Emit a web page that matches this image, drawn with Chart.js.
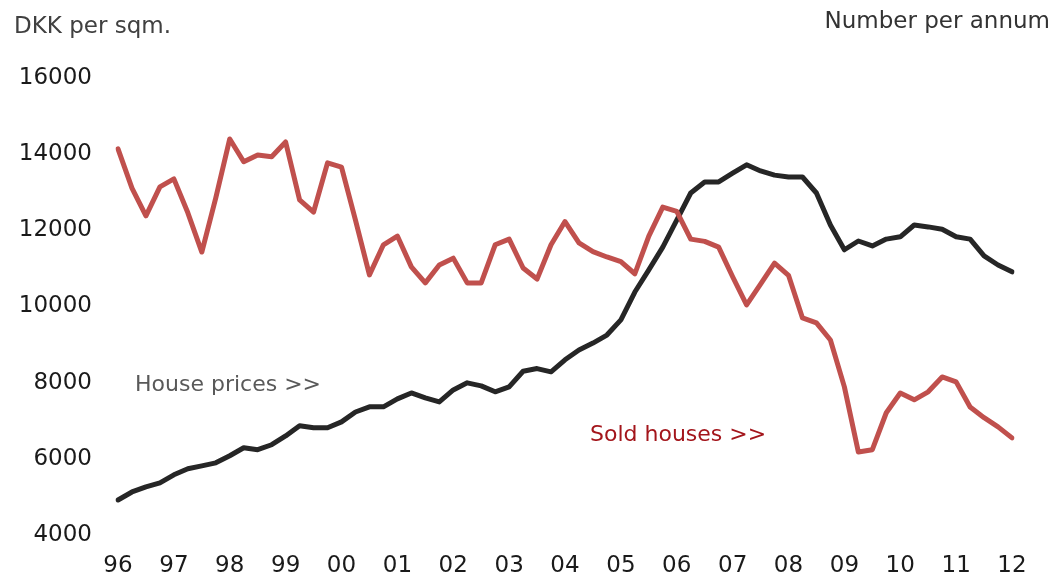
<!DOCTYPE html>
<html>
<head>
<meta charset="utf-8">
<script src="https://cdn.jsdelivr.net/npm/chart.js@4/dist/chart.umd.min.js"></script>
<style>
html,body{margin:0;padding:0;background:#fff;overflow:hidden;}
#wrap{width:1052px;height:572px;position:relative;}
</style>
</head>
<body>
<div id="wrap"><canvas id="c"></canvas></div>
<script>
// Year tick labels (one per year, first quarter)
const yearLabels = ['96','97','98','99','00','01','02','03','04','05','06','07','08','09','10','11','12'];
// Quarterly categories 1996Q1 .. 2012Q1
const categories = [];
yearLabels.forEach((y, i) => {
  const nq = (i === yearLabels.length - 1) ? 1 : 4;
  for (let q = 1; q <= nq; q++) categories.push(y + 'Q' + q);
});

// House prices, DKK per sqm (left axis)
const housePrices = [
  4920, 5130, 5265, 5370, 5580, 5740, 5815, 5895, 6080, 6290,
  6240, 6370, 6600, 6870, 6815, 6815, 6970, 7230, 7365, 7365,
  7575, 7730, 7600, 7495, 7810, 7995, 7915, 7760, 7890, 8300,
  8370, 8285, 8600, 8860, 9040, 9250, 9650, 10380, 10960, 11560,
  12270, 12980, 13270, 13270, 13500, 13720, 13560, 13450, 13400, 13400,
  12980, 12140, 11490, 11720, 11590, 11770, 11830, 12140, 12090, 12030,
  11830, 11770, 11330, 11090, 10910
];
// Sold houses, number per annum (unlabelled right axis, drawn on same visual scale)
const soldHouses = [
  14140, 13110, 12380, 13140, 13350, 12460, 11430, 12850, 14400, 13800,
  13980, 13930, 14320, 12800, 12480, 13770, 13660, 12270, 10830, 11620,
  11850, 11040, 10620, 11090, 11270, 10620, 10620, 11620, 11770, 11010,
  10720, 11620, 12230, 11670, 11440, 11300, 11180, 10860, 11850, 12610,
  12500, 11770, 11710, 11560, 10780, 10040, 10590, 11140, 10820, 9700,
  9570, 9120, 7890, 6180, 6240, 7210, 7730, 7550, 7760, 8150,
  8020, 7360, 7080, 6840, 6550
];
const yTicks = [4000, 6000, 8000, 10000, 12000, 14000, 16000];

const FONT = '"DejaVu Sans", sans-serif';

const textPlugin = {
  id: 'texts',
  afterDraw(chart) {
    const ctx = chart.ctx;
    ctx.save();
    ctx.textBaseline = 'middle';
    ctx.font = '23px ' + FONT;
    ctx.fillStyle = '#404040';
    ctx.textAlign = 'left';
    ctx.fillText('DKK per sqm.', 14, 27);
    ctx.fillStyle = '#333333';
    ctx.textAlign = 'right';
    ctx.fillText('Number per annum', 1050, 22);
    ctx.font = '22px ' + FONT;
    ctx.textAlign = 'left';
    ctx.fillStyle = '#595959';
    ctx.fillText('House prices >>', 135, 385);
    ctx.fillStyle = '#a3151b';
    ctx.fillText('Sold houses >>', 590, 435);
    ctx.restore();
  }
};

new Chart(document.getElementById('c'), {
  type: 'line',
  data: {
    labels: categories,
    datasets: [
      {
        label: 'Sold houses',
        data: soldHouses,
        yAxisID: 'y2',
        borderColor: '#c0504d',
        borderWidth: 5,
        pointRadius: 0,
        tension: 0,
        borderJoinStyle: 'round',
        borderCapStyle: 'round'
      },
      {
        label: 'House prices',
        data: housePrices,
        yAxisID: 'y',
        borderColor: '#262626',
        borderWidth: 5,
        pointRadius: 0,
        tension: 0,
        borderJoinStyle: 'round',
        borderCapStyle: 'round'
      }
    ]
  },
  options: {
    responsive: true,
    maintainAspectRatio: false,
    animation: false,
    events: [],
    layout: { padding: { top: 78, right: 40, bottom: 0, left: 0 } },
    plugins: { legend: { display: false }, tooltip: { enabled: false }, title: { display: false } },
    scales: {
      x: {
        type: 'category',
        offset: false,
        grid: { display: false, drawTicks: false },
        border: { display: false },
        ticks: {
          autoSkip: false,
          maxRotation: 0,
          padding: 17,
          color: '#1a1a1a',
          font: { family: FONT, size: 23 },
          callback: function (v, i) { return i % 4 === 0 ? yearLabels[i / 4] : ''; }
        },
        afterFit: s => { s.height = 37; }
      },
      y: {
        position: 'left',
        min: 4000,
        max: 16000,
        afterBuildTicks: s => { s.ticks = yTicks.map(v => ({ value: v })); },
        grid: { display: false, drawTicks: false },
        border: { display: false },
        ticks: {
          padding: 26,
          color: '#1a1a1a',
          font: { family: FONT, size: 23, lineHeight: 0.95 },
          callback: v => String(v)
        },
        afterFit: s => { s.width = 118; }
      },
      y2: {
        position: 'right',
        display: false,
        min: 4000,
        max: 16000
      }
    }
  },
  plugins: [textPlugin]
});
</script>
</body>
</html>
